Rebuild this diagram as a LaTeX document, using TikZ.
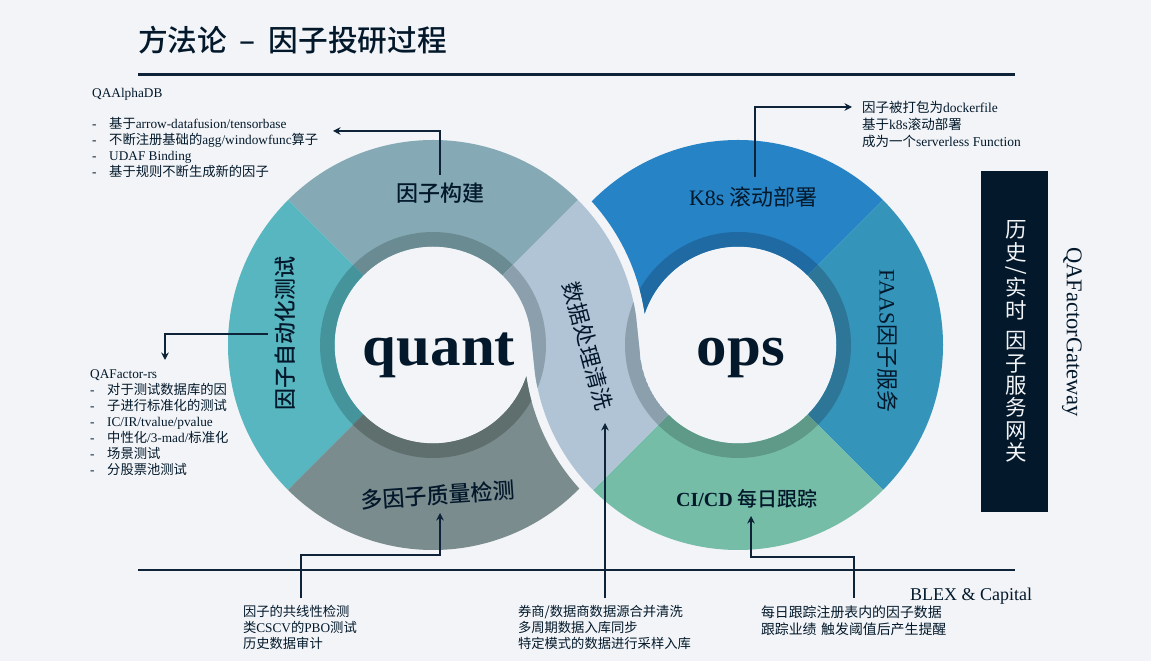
\documentclass[tikz,border=0pt]{standalone}
\usepackage{fontspec}
\usepackage{graphicx}
\setmainfont{Liberation Serif}
\newfontfamily\cjk{Noto Sans CJK SC}
\newfontfamily\cjkb{Noto Sans CJK SC Medium}
\newcommand\zh[1]{{\cjk #1}}
\newcommand\zb[1]{{\cjkb #1}}
\usetikzlibrary{calc,arrows.meta}
\definecolor{bgc}{HTML}{F2F4F7}
\definecolor{ink}{HTML}{03192B}
\definecolor{linec}{HTML}{0E2337}
\definecolor{gouc}{HTML}{85AAB5}\definecolor{gour}{HTML}{6A8B92}
\definecolor{autoc}{HTML}{58B6C0}\definecolor{autor}{HTML}{45939B}
\definecolor{duoc}{HTML}{7A8C8E}\definecolor{duor}{HTML}{5F6F6E}
\definecolor{bandc}{HTML}{B0C4D6}\definecolor{bandr}{HTML}{8C9FAD}
\definecolor{k8sc}{HTML}{2683C6}\definecolor{k8sr}{HTML}{206AA3}
\definecolor{faasc}{HTML}{3494BA}\definecolor{faasr}{HTML}{2D7698}
\definecolor{cidc}{HTML}{75BDA7}\definecolor{cidr}{HTML}{5F9987}
% annular sector: centre, from, to, inner, outer, colour
\newcommand\annsec[6]{\fill[#6] ($(#1)+(#2:#5pt)$) arc[start angle=#2,end angle=#3,radius=#5pt] -- ($(#1)+(#3:#4pt)$) arc[start angle=#3,end angle=#2,radius=#4pt] -- cycle;}
\newcommand\bandpath{($(L)+(45:205pt)$) arc[start angle=45,end angle=8,radius=205pt] -- ($(R)+(188:98.5pt)$) arc[start angle=188,end angle=225,radius=98.5pt] -- ($(R)+(225:205pt)$) arc[start angle=225,end angle=188,radius=205pt] -- ($(L)+(8:98.5pt)$) arc[start angle=8,end angle=45,radius=98.5pt] -- cycle}
\newcommand\listdash[1]{\makebox[#1][l]{-}}
\tikzset{
  conn/.style={draw=linec,line width=1.1pt,-{Stealth[length=7.5pt,width=7.5pt]}},
  rulebar/.style={draw=linec,line width=2.4pt},
  seglabel/.style={text=ink,inner sep=0pt,font=\fontsize{22}{26}\selectfont},
  bigword/.style={text=ink,inner sep=0pt,anchor=base,xscale=1.05,font=\fontsize{58}{58}\selectfont\bfseries},
  block/.style={text=ink,inner xsep=0pt,inner ysep=0pt,align=left,font=\fontsize{13.3}{16}\selectfont},
}
\begin{document}
\begin{tikzpicture}[x=1pt,y=1pt]
\useasboundingbox (0,0) rectangle (1151,661);
\fill[bgc] (0,0) rectangle (1151,661);
\coordinate (L) at (433,316);
\coordinate (R) at (738,316);
% left ring
\annsec{L}{45}{135}{98.5}{205}{gouc}
\annsec{L}{45}{135}{98.5}{113}{gour}
\annsec{L}{135}{225}{98.5}{205}{autoc}
\annsec{L}{135}{225}{98.5}{113}{autor}
\fill[duoc] ($(L)+(225:205pt)$) arc[start angle=225,end angle=315.54,radius=205pt]
  arc[start angle=222.14,end angle=188.46,radius=214pt]
  arc[start angle=341.35,end angle=225,radius=98.5pt] -- cycle;
\fill[duor] ($(L)+(225:113pt)$) arc[start angle=225,end angle=330.5,radius=113pt]
  arc[start angle=195.08,end angle=188.46,radius=214pt]
  arc[start angle=341.35,end angle=225,radius=98.5pt] -- cycle;
% right ring
\fill[k8sc] ($(R)+(45:205pt)$) arc[start angle=45,end angle=135.54,radius=205pt]
  arc[start angle=42.14,end angle=8.46,radius=214pt]
  arc[start angle=161.35,end angle=45,radius=98.5pt] -- cycle;
\fill[k8sr] ($(R)+(45:113pt)$) arc[start angle=45,end angle=150.5,radius=113pt]
  arc[start angle=15.08,end angle=8.46,radius=214pt]
  arc[start angle=161.35,end angle=45,radius=98.5pt] -- cycle;
\annsec{R}{-45}{45}{98.5}{205}{faasc}
\annsec{R}{-45}{45}{98.5}{113}{faasr}
\annsec{R}{225}{315}{98.5}{205}{cidc}
\annsec{R}{225}{315}{98.5}{113}{cidr}
% crossing band
\fill[bandc] \bandpath;
\begin{scope}
\clip \bandpath;
\annsec{L}{-40}{45}{98.5}{113}{bandr}
\annsec{R}{130}{225}{98.5}{113}{bandr}
\end{scope}
% title and rules
\node[inner sep=0pt,anchor=west,text=ink,font=\fontsize{29.7}{34}\selectfont] (title) at (138,621) {\cjkb 方法论\hspace{6pt} – \hspace{6pt}因子投研过程};
\coordinate (topA) at (138,586.5);
\coordinate (topB) at (1015,586.5);
\coordinate (botA) at (138,91);
\coordinate (botB) at (1015,91);
\draw[rulebar] (topA) -- (topB);
\draw[rulebar] (botA) -- (botB);
% segment labels
\node[seglabel,minimum height=36pt] (lgou) at (440,468) {\zb{因子构建}};
\node[seglabel,rotate=90,minimum height=34pt] (lauto) at (285,327) {\zb{因子自动化测试}};
\node[seglabel] (lduo) at (438,166) [rotate=4] {\zb{多因子质量检测}};
\node[seglabel] (lband) at (588,315) [rotate=-75] {\zh{数据处理清洗}};
\node[seglabel,minimum height=40pt] (lk8s) at (755,464) {K8s \zh{滚动部署}\hspace*{3pt}};
\node[seglabel,rotate=-90] (lfaas) at (888,320) {FAAS\zh{因子服务}};
\node[seglabel,font=\fontsize{20}{24}\selectfont] (lcid) at (747,162) {{\bfseries CI/CD} \zb{每日跟踪}};
\node[bigword] (quant) at (439,295) {quant};
\node[bigword] (ops) at (741,295) {ops};
% note blocks
\node[block,anchor=north west] (alpha) at (92,573) {QAAlphaDB\\[15.5pt]
\listdash{17pt}\zh{基于}arrow-datafusion/tensorbase\\
\listdash{17pt}\zh{不断注册基础的}agg/windowfunc\zh{算子}\\
\listdash{17pt}UDAF Binding\\
\listdash{17pt}\zh{基于规则不断生成新的因子}};
\node[block,anchor=north west] (rs) at (90,292) {QAFactor-rs\\
\listdash{17pt}\zh{对于测试数据库的因}\\
\listdash{17pt}\zh{子进行标准化的测试}\\
\listdash{17pt}IC/IR/tvalue/pvalue\\
\listdash{17pt}\zh{中性化}/3-mad/\zh{标准化}\\
\listdash{17pt}\zh{场景测试}\\
\listdash{17pt}\zh{分股票池测试}};
\node[block,anchor=north west,font=\fontsize{13.5}{17}\selectfont] (k8snote) at (862,560) {\zh{因子被打包为}dockerfile\\
\zh{基于}k8s\zh{滚动部署}\\
\zh{成为一个}serverless Function};
\node[block,anchor=north,text width=116pt,inner ysep=7pt] (colin) at (301,63) {\mbox{\zh{因子的共线性检测}}\\
\mbox{\zh{类}CSCV\zh{的}PBO\zh{测试}}\\
\mbox{\zh{历史数据审计}}};
\node[block,anchor=north,text width=174pt,inner ysep=7pt] (merge) at (605,63) {\mbox{\zh{券商/数据商数据源合并清洗}}\\
\mbox{\zh{多周期数据入库同步}}\\
\mbox{\zh{特定模式的数据进行采样入库}}};
\node[block,anchor=north,text width=186pt,inner ysep=7.5pt,font=\fontsize{13.9}{17}\selectfont] (track) at (854,63) {\mbox{\zh{每日跟踪注册表内的因子数据}}\\
\mbox{\zh{跟踪业绩 触发阈值后产生提醒}}};
\node[inner sep=0pt,anchor=center,text=ink,font=\fontsize{18}{20}\selectfont] (blex) at (971,64.5) {BLEX \& Capital};
% gateway
\node[fill=ink,minimum width=67pt,minimum height=341pt,inner sep=0pt] (gatebox) at (1014.5,319.5) {};
\node[text=bgc,inner sep=0pt,align=center,font=\fontsize{21.5}{22.4}\selectfont\cjk] (gatetext) at (1016,319.5) {历\\史\\[-5pt]\rotatebox[origin=c]{-90}{/}\\[-4pt]实\\时\\[8pt]因\\子\\服\\务\\网\\关};
\node[text=ink,rotate=-90,inner sep=0pt,font=\fontsize{22.5}{24}\selectfont] (gateword) at (1072,329) {QAFactorGateway};
% connectors
\coordinate (tipalpha) at (333,530);
\coordinate (tiprs) at (165,301);
\coordinate (tipk8s) at (852,554);
\coordinate (tipduo) at (440,148);
\coordinate (tipband) at (605,238);
\coordinate (tipcid) at (751,145);
\coordinate (jduo) at (440,106);
\coordinate (jcid) at (751,104);
\draw[conn] (lgou.north) |- (tipalpha);
\draw[conn] (lauto.north) -| (tiprs);
\draw[conn] (lk8s.north) |- (tipk8s);
\draw[conn] (colin.north) |- (jduo) -- (tipduo);
\draw[conn] (merge.north) -- (tipband);
\draw[conn] (track.north) |- (jcid) -- (tipcid);
\end{tikzpicture}
\end{document}
